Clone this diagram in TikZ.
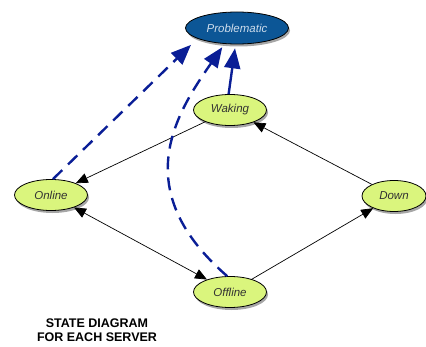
\documentclass[tikz,border=0pt]{standalone}
\usepackage{fontspec}
\setsansfont{Liberation Sans}
\usepackage{tikz}
\usetikzlibrary{arrows.meta, shapes.geometric, shadows}
\definecolor{stategreen}{RGB}{218,245,125}
\definecolor{probblue}{RGB}{12,86,150}
\definecolor{probtext}{RGB}{205,220,235}
\definecolor{dashblue}{RGB}{10,30,150}
\definecolor{statetext}{RGB}{50,50,50}
\tikzset{
    state/.style={ellipse, draw=black, line width=0.8pt, fill=stategreen,
                  minimum width=73pt, minimum height=31pt, inner sep=0pt,
                  text=statetext, font=\fontsize{11.5}{13}\selectfont\sffamily\itshape,
                  drop shadow={shadow xshift=1.5pt, shadow yshift=-2.5pt, opacity=0.35, fill=black}},
    problem/.style={state, fill=probblue, text=probtext,
                    minimum width=103pt, minimum height=32pt},
    arrow/.style={-{Triangle[length=12pt, width=10pt]}, line width=0.7pt, black},
    both/.style={{Triangle[length=12pt, width=10pt]}-{Triangle[length=12pt, width=10pt]}, line width=0.7pt, black},
    toproblem/.style={-{Triangle[length=20pt, width=16pt]}, line width=2.4pt, color=dashblue, shorten >=4pt},
    dashline/.style={toproblem, dash pattern=on 13pt off 8pt}
}
\begin{document}
\begin{tikzpicture}[x=1pt, y=1pt]
    \useasboundingbox (0,0) rectangle (426,346);

    \node[problem] (prob) at (237,318) {Problematic};
    \node[state] (waking) at (230,236) {Waking};
    \node[state] (online) at (51,151) {Online};
    \node[state] (offline) at (230,54) {Offline};
    \node[state, minimum width=64pt] (down) at (394,150) {Down};
    \node[align=center, font=\fontsize{12.5}{14}\selectfont\sffamily\bfseries] (title) at (97,16) {STATE DIAGRAM\\FOR EACH SERVER};

    \draw[arrow] (waking) -- (online);
    \draw[arrow] (down) -- (waking);
    \draw[arrow] (offline) -- (down);
    \draw[both] (online) -- (offline);

    % dashed ones into the problem state
    \draw[dashline, shorten >=9pt] (online.83) -- (prob.195);
    \draw[toproblem] (waking.95) -- (prob.265);
    \draw[dashline] (offline.100) .. controls (128,156) and (175,231) .. (prob.232);
\end{tikzpicture}
\end{document}
